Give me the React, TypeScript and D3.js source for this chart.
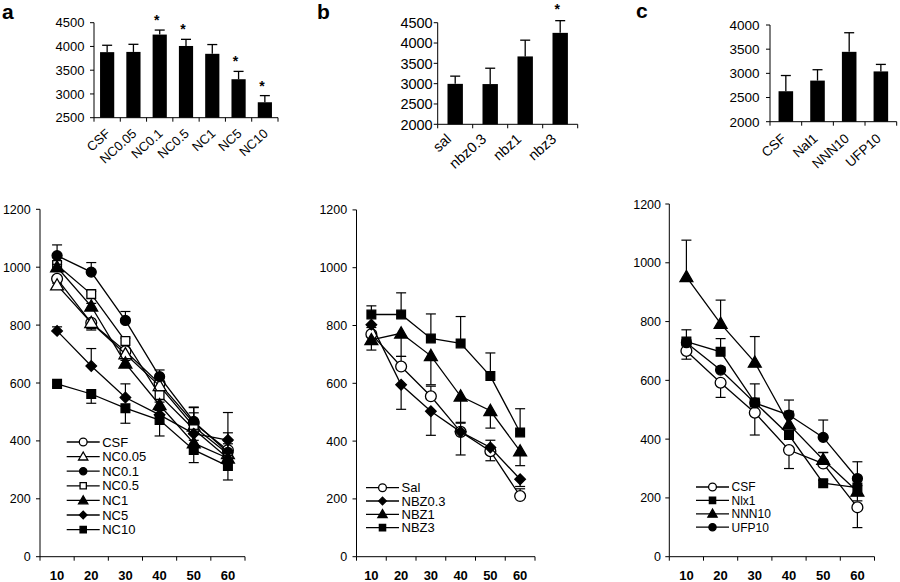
import React from "react";
import * as d3 from "d3";

const FONT = "'Liberation Sans', Arial, Helvetica, sans-serif";

// ---------- Bar chart data ----------
const barACats = ["CSF", "NC0.05", "NC0.1", "NC0.5", "NC1", "NC5", "NC10"];
const barAVals = [3880, 3885, 4250, 4010, 3845, 3310, 2825];
const barAErrs = [145, 160, 95, 140, 195, 165, 140];
const barAStars = [false, false, true, true, false, true, true];
const barATicks = [2500, 3000, 3500, 4000, 4500];

const barBCats = ["sal", "nbz0.3", "nbz1", "nbz3"];
const barBVals = [2995, 2990, 3670, 4250];
const barBErrs = [190, 390, 400, 300];
const barBStars = [false, false, false, true];
const barBTicks = [2000, 2500, 3000, 3500, 4000, 4500];

const barCCats = ["CSF", "Nal1", "NNN10", "UFP10"];
const barCVals = [2630, 2850, 3445, 3040];
const barCErrs = [325, 225, 395, 145];
const barCStars = [false, false, false, false];
const barCTicks = [2000, 2500, 3000, 3500, 4000];

// ---------- Line chart data ----------
const timeLabels = ["10", "20", "30", "40", "50", "60"];
const lineTicks = [0, 200, 400, 600, 800, 1000, 1200];

type Shape = "circle" | "triangle" | "square" | "diamond";

const lineANames = ["CSF", "NC0.05", "NC0.1", "NC0.5", "NC1", "NC5", "NC10"];
const lineAShapes: Shape[] = ["circle", "triangle", "circle", "square", "triangle", "diamond", "square"];
const lineAFilled = [false, false, true, false, true, true, true];
const lineAValues = [
  [960, 808, 710, 598, 462, 368],
  [938, 808, 700, 590, 450, 355],
  [1040, 983, 816, 622, 467, 360],
  [1008, 907, 745, 558, 440, 340],
  [1000, 865, 668, 524, 392, 340],
  [780, 659, 550, 490, 425, 403],
  [597, 562, 513, 472, 369, 313],
];
const lineAErrors = [
  [-15, -25, -20, -20, 35, 130],
  [-12, -20, -15, -15, -20, -20],
  [37, 33, 31, 23, 50, 40],
  [10, 10, 10, 15, 75, 50],
  [10, 10, 10, 10, 10, 10],
  [14, 60, 47, 15, 15, 25],
  [-10, -32, -52, -55, -44, -48],
];

const lineBNames = ["Sal", "NBZ0.3", "NBZ1", "NBZ3"];
const lineBShapes: Shape[] = ["circle", "diamond", "triangle", "square"];
const lineBFilled = [false, true, true, true];
const lineBValues = [
  [770, 658, 555, 432, 365, 210],
  [803, 595, 503, 432, 378, 268],
  [750, 773, 695, 555, 505, 365],
  [838, 838, 755, 738, 625, 430],
];
const lineBErrors = [
  [10, 35, 35, 30, -33, 25],
  [-10, -85, -83, -80, 25, -25],
  [-35, -80, -100, -90, -60, -50],
  [30, 75, 85, 93, 80, 82],
];

const lineCNames = ["CSF", "Nlx1", "NNN10", "UFP10"];
const lineCShapes: Shape[] = ["circle", "square", "triangle", "circle"];
const lineCFilled = [false, true, true, true];
const lineCValues = [
  [700, 592, 490, 363, 317, 168],
  [732, 697, 525, 414, 250, 235],
  [952, 793, 661, 450, 330, 222],
  [728, 635, 523, 482, 406, 266],
];
const lineCErrors = [
  [-28, -50, -76, -63, 37, -69],
  [40, 45, 10, 10, 10, -45],
  [125, 80, 88, 45, 25, 20],
  [10, 10, 65, 51, 59, 57],
];

// ---------- Components ----------
function Marker({ shape, filled, x, y, scale = 1 }: { shape: Shape; filled: boolean; x: number; y: number; scale?: number }) {
  let sym: any = d3.symbolCircle;
  let size = 78;
  let rot = 0;
  if (shape === "triangle") { sym = d3.symbolTriangle; size = 72; }
  if (shape === "square") { sym = d3.symbolSquare; size = 76; }
  if (shape === "diamond") { sym = d3.symbolSquare; size = 56; rot = 45; }
  if (shape === "circle" && !filled) size = 92;
  const path = d3.symbol().type(sym).size(size * scale * scale)() as string;
  const dy = shape === "triangle" ? scale : 0;
  return (
    <path
      d={path}
      transform={`translate(${x},${y + dy}) rotate(${rot})`}
      fill={filled ? "#000" : "#fff"}
      stroke="#000"
      strokeWidth={1.3}
    />
  );
}

interface BarProps {
  cats: string[]; vals: number[]; errs: number[]; stars: boolean[]; ticks: number[];
  x0: number; x1: number; yTop: number; yBot: number; padIn: number;
  fontSize: number; labelGap: number; starDy: number; labelDx: number; labelDy: number;
}

function BarPanel(p: BarProps) {
  const y = d3.scaleLinear().domain([p.ticks[0], p.ticks[p.ticks.length - 1]]).range([p.yBot, p.yTop]);
  const x = d3.scaleBand<string>().domain(p.cats).range([p.x0, p.x1]).paddingInner(p.padIn).paddingOuter(p.padIn / 2);
  const step = x.step();
  return (
    <g fontFamily={FONT} fontSize={p.fontSize}>
      {p.cats.map((c, i) => {
        const cx = (x(c) as number) + x.bandwidth() / 2;
        const top = y(p.vals[i]);
        const et = y(p.vals[i] + p.errs[i]);
        return (
          <g key={c}>
            <rect x={x(c)} y={top} width={x.bandwidth()} height={p.yBot - top} fill="#000" />
            <line x1={cx} x2={cx} y1={top} y2={et} stroke="#000" strokeWidth={1.3} />
            <line x1={cx - 5} x2={cx + 5} y1={et} y2={et} stroke="#000" strokeWidth={1.3} />
            {p.stars[i] && (
              <text x={cx - 3} y={et - p.starDy} textAnchor="middle" fontSize={14} fontWeight="bold">*</text>
            )}
            <text
              transform={`translate(${cx + p.labelDx},${p.yBot + p.labelDy}) rotate(-42)`}
              textAnchor="end"
            >{c}</text>
          </g>
        );
      })}
      <line x1={p.x0} x2={p.x0} y1={p.yTop} y2={p.yBot} stroke="#000" strokeWidth={1} />
      <line x1={p.x0} x2={p.x1} y1={p.yBot} y2={p.yBot} stroke="#000" strokeWidth={1} />
      {p.ticks.map((t) => (
        <g key={t}>
          <line x1={p.x0 - 4} x2={p.x0} y1={y(t)} y2={y(t)} stroke="#000" />
          <text x={p.x0 - p.labelGap} y={y(t)} dy="0.36em" textAnchor="end">{t}</text>
        </g>
      ))}
      {d3.range(p.cats.length + 1).map((i) => (
        <line key={i} x1={p.x0 + step * i} x2={p.x0 + step * i} y1={p.yBot} y2={p.yBot + 4} stroke="#000" />
      ))}
    </g>
  );
}

interface LineProps {
  names: string[]; shapes: Shape[]; filled: boolean[]; values: number[][]; errors: number[][];
  x0: number; x1: number; yTop: number; yBot: number; labelGap: number;
  legX: number; legY: number; legStep: number; legFont: number;
}

function LinePanel(p: LineProps) {
  const y = d3.scaleLinear().domain([0, 1200]).range([p.yBot, p.yTop]);
  const x = d3.scaleBand<string>().domain(timeLabels).range([p.x0, p.x1]).padding(0);
  const cx = (t: string) => (x(t) as number) + x.bandwidth() / 2;
  const line = d3.line<number>().x((_, i) => cx(timeLabels[i])).y((v) => y(v));
  return (
    <g fontFamily={FONT}>
      <line x1={p.x0} x2={p.x0} y1={p.yTop} y2={p.yBot} stroke="#000" />
      <line x1={p.x0} x2={p.x1} y1={p.yBot} y2={p.yBot} stroke="#000" />
      {lineTicks.map((t) => (
        <g key={t}>
          <line x1={p.x0 - 4} x2={p.x0} y1={y(t)} y2={y(t)} stroke="#000" />
          <text x={p.x0 - p.labelGap} y={y(t)} dy="0.36em" textAnchor="end" fontSize={12.5}>{t}</text>
        </g>
      ))}
      {d3.range(timeLabels.length + 1).map((i) => (
        <line key={i} x1={p.x0 + x.step() * i} x2={p.x0 + x.step() * i} y1={p.yBot} y2={p.yBot + 4} stroke="#000" />
      ))}
      {timeLabels.map((t) => (
        <text key={t} x={cx(t)} y={p.yBot + 23.5} textAnchor="middle" fontSize={13} fontWeight="bold">{t}</text>
      ))}
      {p.values.map((vals, s) => (
        <g key={s}>
          {vals.map((v, i) => {
            const xx = cx(timeLabels[i]);
            const e = y(v + p.errors[s][i]);
            return (
              <g key={i}>
                <line x1={xx} x2={xx} y1={y(v)} y2={e} stroke="#000" strokeWidth={1.2} />
                <line x1={xx - 5} x2={xx + 5} y1={e} y2={e} stroke="#000" strokeWidth={1.2} />
              </g>
            );
          })}
          <path d={line(vals) as string} fill="none" stroke="#000" strokeWidth={1.3} />
          {vals.map((v, i) => (
            <Marker key={i} shape={p.shapes[s]} filled={p.filled[s]} x={cx(timeLabels[i])} y={y(v)} />
          ))}
        </g>
      ))}
      {p.names.map((n, s) => {
        const ly = p.legY + s * p.legStep;
        return (
          <g key={n}>
            <line x1={p.legX} x2={p.legX + 33} y1={ly} y2={ly} stroke="#000" strokeWidth={1.3} />
            <Marker shape={p.shapes[s]} filled={p.filled[s]} x={p.legX + 16.5} y={ly} scale={0.72} />
            <text x={p.legX + 35.5} y={ly} dy="0.36em" fontSize={p.legFont}>{n}</text>
          </g>
        );
      })}
    </g>
  );
}

export default function App() {
  return (
    <svg width={900} height={582} style={{ position: "absolute", left: 0, top: 0, background: "#fff" }}>
      <rect x={0} y={0} width={900} height={582} fill="#fff" />
      <g fontFamily={FONT} fontWeight="bold" fontSize={21}>
        <text x={2} y={19}>a</text>
        <text x={317} y={19}>b</text>
        <text x={636} y={18}>c</text>
      </g>
      <BarPanel cats={barACats} vals={barAVals} errs={barAErrs} stars={barAStars} ticks={barATicks}
        x0={94} x1={278} yTop={22.7} yBot={117.7} padIn={0.46} fontSize={13} labelGap={9.5}
        starDy={5} labelDx={4} labelDy={17} />
      <BarPanel cats={barBCats} vals={barBVals} errs={barBErrs} stars={barBStars} ticks={barBTicks}
        x0={437.7} x1={577.7} yTop={22.7} yBot={124.3} padIn={0.56} fontSize={14.5} labelGap={5}
        starDy={7} labelDx={-3} labelDy={16} />
      <BarPanel cats={barCCats} vals={barCVals} errs={barCErrs} stars={barCStars} ticks={barCTicks}
        x0={770} x1={896.7} yTop={25} yBot={121.7} padIn={0.54} fontSize={13.5} labelGap={10.5}
        starDy={5} labelDx={1} labelDy={18} />
      <LinePanel names={lineANames} shapes={lineAShapes} filled={lineAFilled} values={lineAValues} errors={lineAErrors}
        x0={40} x1={245} yTop={209.3} yBot={556.7} labelGap={9.3} legX={66.7} legY={442} legStep={14.6} legFont={13} />
      <LinePanel names={lineBNames} shapes={lineBShapes} filled={lineBFilled} values={lineBValues} errors={lineBErrors}
        x0={356.5} x1={535} yTop={209.9} yBot={556.7} labelGap={9.3} legX={366} legY={487.7} legStep={13.3} legFont={13} />
      <LinePanel names={lineCNames} shapes={lineCShapes} filled={lineCFilled} values={lineCValues} errors={lineCErrors}
        x0={669.3} x1={874.5} yTop={204} yBot={556.7} labelGap={8.3} legX={696} legY={487} legStep={13.4} legFont={12} />
    </svg>
  );
}
